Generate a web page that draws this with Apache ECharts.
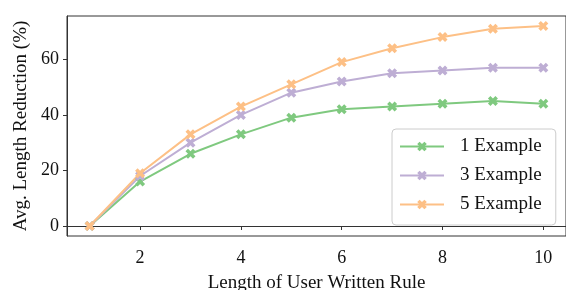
<!DOCTYPE html>
<html><head><meta charset="utf-8">
<script src="https://cdn.jsdelivr.net/npm/echarts@6/dist/echarts.min.js"></script>
<style>html,body{margin:0;padding:0;background:#fff}#c{width:566px;height:290px}</style>
</head><body><div id="c"></div>
<script>
const ruleLengths = [1, 2, 3, 4, 5, 6, 7, 8, 9, 10];
const oneExample = [0, 16, 26, 33, 39, 42, 43, 44, 45, 44];
const threeExample = [0, 18, 30, 40, 48, 52, 55, 56, 57, 57];
const fiveExample = [0, 19, 33, 43, 51, 59, 64, 68, 71, 72];
const seriesNames = ['1 Example', '3 Example', '5 Example'];
const xTicks = [2, 4, 6, 8, 10];
const yTicks = [0, 20, 40, 60];

const colors = ['#7fc97f', '#beaed4', '#fdc086'];
const xMark = 'path://M0,2.5 L2.5,0 L5,2.5 L7.5,0 L10,2.5 L7.5,5 L10,7.5 L7.5,10 L5,7.5 L2.5,10 L0,7.5 L2.5,5 Z';
const font = 'Liberation Serif';
const chart = echarts.init(document.getElementById('c'), null, {renderer: 'canvas'});
const mk = (name, vals, color) => ({
  name, type: 'line', data: ruleLengths.map((x, i) => [x, vals[i]]),
  symbol: xMark, symbolSize: 10, showSymbol: true,
  lineStyle: {color, width: 2}, itemStyle: {color},
  emphasis: {disabled: true}, animation: false
});
chart.setOption({
  animation: false,
  textStyle: {fontFamily: font},
  grid: {left: 67, right: 0, top: 16, bottom: 54, containLabel: false,
         outerBoundsMode: 'none',
         show: true, borderColor: '#333', borderWidth: 1},
  xAxis: {
    type: 'value', min: 0.55, max: 10.45,
    name: 'Length of User Written Rule', nameLocation: 'middle', nameGap: 38,
    nameTextStyle: {fontFamily: font, fontSize: 19, color: '#111'},
    axisLine: {show: true, lineStyle: {color: '#333', width: 1}},
    axisTick: {show: true, length: 4, customValues: xTicks, lineStyle: {color: '#333'}},
    axisLabel: {customValues: xTicks, fontFamily: font, fontSize: 18, color: '#111', margin: 13},
    splitLine: {show: false}
  },
  yAxis: {
    type: 'value', min: -3.6, max: 75.6,
    name: 'Avg. Length Reduction (%)', nameLocation: 'middle', nameGap: 36,
    nameTextStyle: {fontFamily: font, fontSize: 19, color: '#111'},
    axisLine: {show: true, lineStyle: {color: '#333', width: 1}},
    axisTick: {show: true, length: 4, customValues: yTicks, lineStyle: {color: '#333'}},
    axisLabel: {customValues: yTicks, fontFamily: font, fontSize: 18, color: '#111', margin: 8},
    splitLine: {show: false}
  },
  legend: {
    orient: 'vertical', left: 392, top: 129,
    data: seriesNames,
    itemWidth: 44, itemHeight: 12, itemGap: 10,
    padding: [8, 14, 11, 7],
    borderColor: '#ccc', borderWidth: 1, borderRadius: 4,
    backgroundColor: 'rgba(255,255,255,0.8)',
    textStyle: {fontFamily: font, fontSize: 19, color: '#111', padding: [0, 0, 0, 11]}
  },
  series: [
    mk(seriesNames[0], oneExample, colors[0]),
    mk(seriesNames[1], threeExample, colors[1]),
    mk(seriesNames[2], fiveExample, colors[2])
  ]
});
</script></body></html>
